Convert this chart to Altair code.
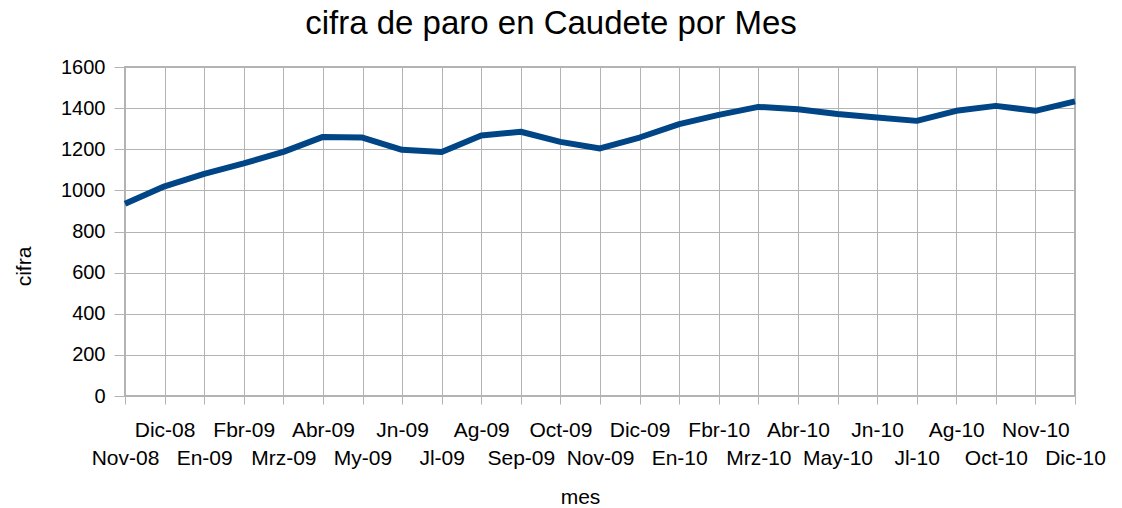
import json
import altair as alt
import pandas as pd

meses = ["Nov-08", "Dic-08", "En-09", "Fbr-09", "Mrz-09", "Abr-09", "My-09", "Jn-09",
         "Jl-09", "Ag-09", "Sep-09", "Oct-09", "Nov-09", "Dic-09", "En-10", "Fbr-10",
         "Mrz-10", "Abr-10", "May-10", "Jn-10", "Jl-10", "Ag-10", "Oct-10", "Nov-10", "Dic-10"]
cifra = [935, 1020, 1080, 1131, 1187, 1260, 1257, 1197, 1187, 1267, 1285, 1236, 1204,
         1257, 1322, 1367, 1406, 1395, 1371, 1354, 1338, 1387, 1411, 1387, 1433]
y_ticks = [0, 200, 400, 600, 800, 1000, 1200, 1400, 1600]

df = pd.DataFrame({"mes": meses, "cifra": cifra})

FONT = "Liberation Sans"
GRAY = "#b3b3b3"

odd_test = "indexof(" + json.dumps(meses) + ", datum.value) % 2 == 1"

chart = alt.Chart(df).mark_line(
    color="#004586", strokeWidth=6, strokeJoin="round"
).encode(
    x=alt.X(
        "mes:N", sort=meses,
        scale=alt.Scale(type="point", padding=0),
        axis=alt.Axis(
            title="mes", labelAngle=0, domain=False,
            grid=True, gridColor=GRAY, gridWidth=1,
            ticks=True, tickColor=GRAY, tickSize=8, tickWidth=1,
            labelFont=FONT, labelFontSize=21, labelColor="black",
            labelBaseline="top", labelAlign="center",
            labelPadding={"condition": {"test": odd_test, "value": 15}, "value": 43},
            labelOverlap=False,
            titleFont=FONT, titleFontSize=21, titleFontWeight="normal", titleColor="black",
            titleX=455, titleY=101, titleAlign="center", titleBaseline="middle",
        ),
    ),
    y=alt.Y(
        "cifra:Q",
        scale=alt.Scale(domain=[0, 1600], nice=False),
        axis=alt.Axis(
            title="cifra", values=y_ticks, format="d", domain=False,
            grid=True, gridColor=GRAY, gridWidth=1,
            ticks=True, tickColor=GRAY, tickSize=11, tickWidth=1,
            labelFont=FONT, labelFontSize=20, labelColor="black", labelPadding=9,
            titleFont=FONT, titleFontSize=21, titleFontWeight="normal", titleColor="black",
            titleAngle=270, titleX=-101, titleY=199, titleAlign="center", titleBaseline="middle",
        ),
    ),
).properties(
    width=950, height=329,
    padding={"left": 117, "top": 59, "right": 39, "bottom": 120},
    autosize=alt.AutoSizeParams(type="none"),
    title=alt.TitleParams(
        "cifra de paro en Caudete por Mes", font=FONT, fontSize=33,
        fontWeight="normal", color="black", anchor="middle", frame="group",
        dx=-49, dy=35, baseline="alphabetic", offset=25,
    ),
).configure_view(
    stroke=GRAY, strokeWidth=2
)

chart.save("out.html", embed_options={"renderer": "svg", "actions": False})
